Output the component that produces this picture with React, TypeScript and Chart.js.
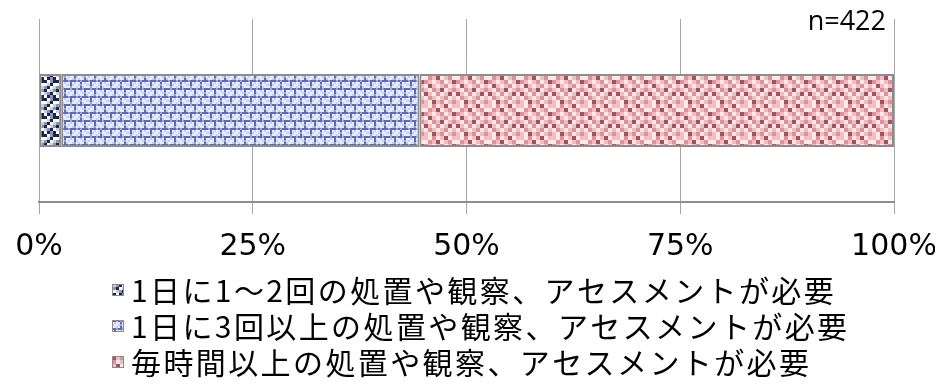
import React, { useEffect, useRef } from "react";
import { Chart, registerables } from "chart.js";

Chart.register(...registerables);

// ---- data ----
const categories: string[] = [""];
const seriesLabels: string[] = [
  "1日に1～2回の処置や観察、アセスメントが必要",
  "1日に3回以上の処置や観察、アセスメントが必要",
  "毎時間以上の処置や観察、アセスメントが必要",
];
const series1: number[] = [2.6];
const series2: number[] = [41.9];
const series3: number[] = [55.5];
const tickValues: number[] = [0, 25, 50, 75, 100];
const tickLabels: string[] = ["0%", "25%", "50%", "75%", "100%"];
const sampleLabel = "n=422";

const TICK_FONT = '"DejaVu Sans", sans-serif';
const N_FONT = '"Open Sans", "Liberation Sans", sans-serif';
const CJK_FONT = '"Noto Sans CJK JP", sans-serif';

function makePattern(
  ctx: CanvasRenderingContext2D,
  palette: string[],
  grid: number[][],
  cell: number
): CanvasPattern | string {
  const rows = grid.length;
  const cols = grid[0].length;
  const c = document.createElement("canvas");
  c.width = cols * cell;
  c.height = rows * cell;
  const g = c.getContext("2d")!;
  for (let r = 0; r < rows; r++) {
    for (let k = 0; k < cols; k++) {
      g.fillStyle = palette[grid[r][k]];
      g.fillRect(k * cell, r * cell, cell, cell);
    }
  }
  return ctx.createPattern(c, "repeat") || palette[0];
}

export default function App() {
  const ref = useRef<HTMLCanvasElement | null>(null);

  useEffect(() => {
    const canvas = ref.current!;
    const ctx = canvas.getContext("2d")!;

    const darkPattern = makePattern(
      ctx,
      ["#ffffff", "#8a96b4", "#1b2450", "#c9d0e0"],
      [
        [2, 0, 1, 2],
        [0, 3, 2, 0],
        [1, 2, 0, 3],
        [2, 0, 3, 1],
        [3, 1, 2, 0],
        [0, 2, 1, 2],
      ],
      3
    );
    const bluePattern = makePattern(
      ctx,
      ["#e6ebfd", "#c6cef3", "#5d6ab0", "#9aa5da"],
      [
        [2, 3, 2, 2, 3, 2, 2, 3, 2, 2],
        [0, 1, 0, 2, 0, 0, 1, 0, 2, 0],
        [1, 0, 0, 2, 1, 0, 0, 1, 3, 0],
        [0, 0, 1, 3, 0, 1, 0, 0, 2, 1],
        [3, 2, 2, 2, 3, 2, 3, 2, 2, 2],
        [0, 2, 0, 1, 0, 0, 2, 0, 1, 0],
        [1, 2, 1, 0, 0, 1, 3, 0, 0, 1],
        [0, 3, 0, 0, 1, 0, 2, 1, 0, 0],
      ],
      2
    );
    const pinkPattern = makePattern(
      ctx,
      ["#fbe9e9", "#f0bec0", "#db9399", "#a9505e"],
      [
        [1, 0, 2, 0, 1, 3, 0, 1],
        [0, 2, 1, 3, 0, 1, 2, 0],
        [2, 1, 0, 1, 2, 0, 1, 3],
        [0, 3, 1, 0, 1, 2, 0, 1],
        [1, 0, 2, 1, 3, 0, 1, 2],
        [3, 1, 0, 2, 0, 1, 3, 0],
        [0, 2, 1, 0, 1, 2, 0, 1],
        [1, 0, 3, 1, 2, 0, 1, 2],
      ],
      4
    );
    const patterns = [darkPattern, bluePattern, pinkPattern];

    const legendPlugin = {
      id: "customLegend",
      afterDraw(chart: any) {
        const c = chart.ctx as any;
        c.save();
        c.font = `30px ${CJK_FONT}`;
        c.letterSpacing = "2.4px";
        c.textBaseline = "middle";
        c.textAlign = "left";
        const box = 12;
        const gap = 7;
        const x0 = 104;
        const top = chart.height - 110;
        chart.data.datasets.forEach((ds: any, i: number) => {
          const cy = top + i * 36 + 18;
          c.fillStyle = ds.backgroundColor;
          c.fillRect(x0, cy - box / 2, box, box);
          c.strokeStyle = "#8c8c8c";
          c.lineWidth = 1;
          c.strokeRect(x0 + 0.5, cy - box / 2 + 0.5, box - 1, box - 1);
          c.fillStyle = "#000000";
          c.fillText(ds.label, x0 + box + gap, cy + 1);
        });
        c.letterSpacing = "0px";
        c.restore();
      },
    };

    const nPlugin = {
      id: "sampleSize",
      afterDraw(chart: any) {
        const c = chart.ctx as CanvasRenderingContext2D;
        c.save();
        c.font = `27px ${N_FONT}`;
        c.textAlign = "right";
        c.textBaseline = "middle";
        c.fillStyle = "#000000";
        c.fillText(sampleLabel, chart.chartArea.right - 8, 14);
        c.restore();
      },
    };

    const chart = new Chart(canvas, {
      type: "bar",
      data: {
        labels: categories,
        datasets: [series1, series2, series3].map((d, i) => ({
          label: seriesLabels[i],
          data: d,
          backgroundColor: patterns[i] as any,
          borderColor: "#8c8c8c",
          borderWidth: 2,
          borderSkipped: false,
          barPercentage: 0.4,
          categoryPercentage: 1,
        })),
      },
      options: {
        indexAxis: "y",
        animation: false,
        responsive: true,
        maintainAspectRatio: false,
        layout: { padding: { top: 11, left: 31, right: 41, bottom: 120 } },
        plugins: {
          legend: { display: false },
          tooltip: { enabled: false },
          title: { display: false },
        },
        scales: {
          x: {
            stacked: true,
            min: 0,
            max: 100,
            afterBuildTicks(scale: any) {
              scale.ticks = tickValues.map((v) => ({ value: v }));
            },
            afterFit(scale: any) {
              scale.height = 60;
              scale.paddingLeft = 0;
              scale.paddingRight = 0;
            },
            ticks: {
              autoSkip: false,
              maxRotation: 0,
              padding: 15,
              color: "#000000",
              font: { family: TICK_FONT, size: 30 },
              callback: (v: any) => tickLabels[tickValues.indexOf(Number(v))] ?? "",
            },
            grid: {
              color: "#a6a6a6",
              lineWidth: 1,
              tickLength: 12,
              drawTicks: true,
            },
            border: { display: true, color: "#8c8c8c", width: 2 },
          },
          y: {
            stacked: true,
            display: false,
          },
        },
      },
      plugins: [legendPlugin, nPlugin],
    });

    return () => chart.destroy();
  }, []);

  return (
    <div style={{ width: "100%", height: "374px", position: "relative" }}>
      <canvas ref={ref} />
    </div>
  );
}
